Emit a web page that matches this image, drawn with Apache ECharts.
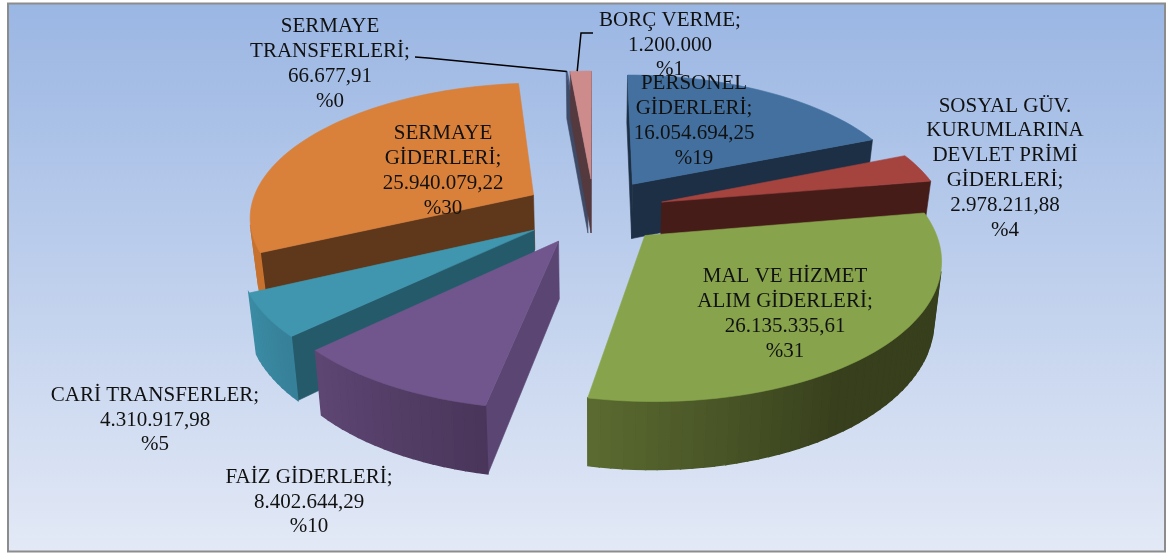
<!DOCTYPE html>
<html><head><meta charset="utf-8">
<script src="https://cdn.jsdelivr.net/npm/echarts@6/dist/echarts.min.js"></script>
<style>html,body{margin:0;padding:0;background:#fff}#c{width:1172px;height:554px}</style>
</head><body><div id="c"></div>
<script>
// ---- data ----
const categories = ['PERSONEL\nGİDERLERİ','SOSYAL GÜV.\nKURUMLARINA\nDEVLET PRİMİ\nGİDERLERİ','MAL VE HİZMET\nALIM GİDERLERİ','FAİZ GİDERLERİ','CARİ TRANSFERLER','SERMAYE\nGİDERLERİ','SERMAYE\nTRANSFERLERİ','BORÇ VERME'];
const values = [16054694.25,2978211.88,26135335.61,8402644.29,4310917.98,25940079.22,66677.91,1200000];
const valueLabels = ['16.054.694,25','2.978.211,88','26.135.335,61','8.402.644,29','4.310.917,98','25.940.079,22','66.677,91','1.200.000'];

// ---- styles ----
const topColors = ['#43709f','#a5433f','#87a44c','#70568c','#3f96ae','#d9803a','#4a5a80','#cd8c8b'];
const radialColors = ['#1c2f45','#461c19','#5a6a30','#5b4573','#255a6b','#5f371a','#3e4a66','#54393f'];
const arcFrom = ['#2f5078','#6e2c2a','#373f1c','#4a365b','#37809a','#c7722f','#3e4a66','#54393f'];
const arcTo = ['#2f5078','#6e2c2a','#5a6a30','#5e4673','#3a8ba3','#c7722f','#3e4a66','#54393f'];
const arcHold = [0,0,0.6,0,0,0,0,0];
const drawOrder = [6,7,0,5,1,4,2,3];
// label centre per category, and leader start where one exists
const labelCentres = [[694,121],[1005,168],[785,314],[309,502],[155,420],[443,171],[330,64],[670,45]];
const leaders = {6:[[415,57],[428,58]],7:[[593,33],[581,33]]};

// ---- projection ----
const view = {cx:594,cy:211,A:284,B:133,D:56,p:0.15,q:0.022,explode:0.25};
const total = values.reduce((a,b)=>a+b,0);
const spans = values.map(v=>v/total*Math.PI*2);
const starts = spans.map((_,i)=>spans.slice(0,i).reduce((a,b)=>a+b,0));
function project(X,Y,z){
  const s = 1/(1+view.p*Y);
  return [view.cx+view.A*X*s*(1-view.q*z), view.cy-view.B*Y*s+view.D*z*s];
}
function area(pts){
  let a=0;
  pts.forEach((p,i)=>{const n=pts[(i+1)%pts.length];a+=p[0]*n[1]-n[0]*p[1];});
  return a;
}
function hex(c){return [1,3,5].map(i=>parseInt(c.substr(i,2),16));}
function mix(a,b,t){const x=hex(a),y=hex(b);return 'rgb('+x.map((v,i)=>Math.round(v+(y[i]-v)*t)).join(',')+')';}
function poly(points,fill,w){
  return {type:'polygon',shape:{points},style:{fill,stroke:fill,lineWidth:w}};
}
function sliceGeom(i){
  const mid = starts[i]+spans[i]/2;
  const ox = view.explode*Math.sin(mid), oy = view.explode*Math.cos(mid);
  const n = Math.max(2,Math.ceil(spans[i]/0.035));
  const arc = [];
  for(let k=0;k<=n;k++){
    const t = starts[i]+spans[i]*k/n;
    arc.push([ox+Math.sin(t),oy+Math.cos(t)]);
  }
  return {ox,oy,arc,n};
}
function renderSlice(params,api){
  const i = api.value(0);
  const g = sliceGeom(i);
  const children = [];
  const wall = (a,b,fill,w)=>{
    const q=[project(a[0],a[1],0),project(b[0],b[1],0),project(b[0],b[1],1),project(a[0],a[1],1)];
    if(area(q)<0) children.push(poly(q,fill,w));
  };
  const apex=[g.ox,g.oy];
  wall(g.arc[g.n],apex,radialColors[i],0.6);
  wall(apex,g.arc[0],radialColors[i],0.6);
  for(let k=0;k<g.n;k++){
    let t=k/(g.n-1||1);
    t=Math.max(0,(t-arcHold[i])/(1-arcHold[i]));
    wall(g.arc[k],g.arc[k+1],mix(arcFrom[i],arcTo[i],t),1.4);
  }
  const top=[project(apex[0],apex[1],0)].concat(g.arc.map(p=>project(p[0],p[1],0)));
  children.push(poly(top,topColors[i],0.6));
  return {type:'group',children};
}
function renderLabel(params,api){
  const i = api.value(0);
  const pct = Math.round(values[i]/total*100);
  const text = categories[i]+';\n'+valueLabels[i]+'\n%'+pct;
  const children = [];
  if(leaders[i]){
    const g = sliceGeom(i);
    const end = g.arc[Math.floor(g.n/2)];
    children.push({type:'polyline',shape:{points:leaders[i].concat([project(end[0],end[1],0)])},
      style:{stroke:'#000',lineWidth:1.5,fill:null}});
  }
  children.push({type:'text',style:{text,x:labelCentres[i][0],y:labelCentres[i][1],align:'center',verticalAlign:'middle',
    font:'21px "Liberation Serif"',lineHeight:24.8,fill:'#111'}});
  return {type:'group',children};
}
const chart = echarts.init(document.getElementById('c'),null,{renderer:'canvas'});
chart.setOption({
  animation:false,
  backgroundColor:'#fff',
  graphic:[{type:'rect',z:-1,shape:{x:8,y:3.5,width:1157,height:548},
    style:{stroke:'#8c8c8c',lineWidth:2,fill:{type:'linear',x:0,y:0,x2:0,y2:1,colorStops:[{offset:0,color:'#9ab6e3'},{offset:1,color:'#e3e9f6'}]}}}],
  series:[
    {type:'custom',coordinateSystem:'none',silent:true,z:2,renderItem:renderSlice,data:drawOrder.map(i=>[i,values[i]])},
    {type:'custom',coordinateSystem:'none',silent:true,z:3,renderItem:renderLabel,data:values.map((v,i)=>[i,v])}
  ]
});
</script></body></html>
